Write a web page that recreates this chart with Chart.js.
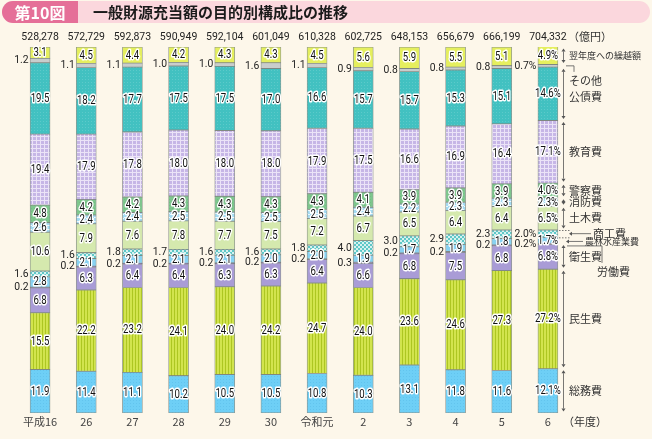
<!DOCTYPE html>
<html><head><meta charset="utf-8">
<script src="https://cdn.jsdelivr.net/npm/chart.js@4"></script>
<style>
html,body{margin:0;padding:0;background:#fdf7ea;}
#wrap{position:relative;width:652px;height:439px;}
canvas{display:block;}
</style></head>
<body><div id="wrap"><canvas id="c" width="652" height="439"></canvas></div>
<script>
const categories = ['平成16','26','27','28','29','30','令和元','2','3','4','5','6'];
const totals = ['528,278','572,729','592,873','590,949','592,104','601,049','610,328','602,725','648,153','656,679','666,199','704,332'];
const soumu     = [11.9,11.4,11.1,10.2,10.5,10.5,10.8,10.3,13.1,11.8,11.6,12.1];
const minsei    = [15.5,22.2,23.2,24.1,24.0,24.2,24.7,24.0,23.6,24.6,27.3,27.2];
const eisei     = [6.8,6.3,6.4,6.4,6.3,6.3,6.4,6.6,6.8,7.5,6.8,6.8];
const roudou    = [0.2,0.2,0.2,0.2,0.2,0.2,0.2,0.3,0.2,0.2,0.2,0.2];
const nourin    = [2.8,2.1,2.1,2.1,2.1,2.0,2.0,1.9,1.7,1.9,1.8,1.7];
const shoukou   = [1.6,1.6,1.8,1.7,1.6,1.6,1.8,4.0,3.0,2.9,2.3,2.0];
const doboku    = [10.6,7.9,7.6,7.8,7.7,7.5,7.2,6.7,6.5,6.4,6.4,6.5];
const shoubou   = [2.6,2.4,2.4,2.5,2.5,2.5,2.5,2.4,2.2,2.3,2.3,2.3];
const keisatsu  = [4.8,4.2,4.2,4.3,4.3,4.3,4.3,4.1,3.9,3.9,3.9,4.0];
const kyouiku   = [19.4,17.9,17.8,18.0,18.0,18.0,17.9,17.5,16.6,16.9,16.4,17.1];
const kousai    = [19.5,18.2,17.7,17.5,17.5,17.0,16.6,15.7,15.7,15.3,15.1,14.6];
const sonota    = [1.2,1.1,1.1,1.0,1.0,1.6,1.1,0.9,0.8,0.8,0.8,0.7];
const yokunendo = [3.1,4.5,4.4,4.2,4.3,4.3,4.5,5.6,5.9,5.5,5.1,4.9];
const seriesNames = ['総務費','民生費','衛生費','労働費','農林水産業費','商工費','土木費','消防費','警察費','教育費','公債費','その他','翌年度への繰越額'];
const seriesData = [soumu,minsei,eisei,roudou,nourin,shoukou,doboku,shoubou,keisatsu,kyouiku,kousai,sonota,yokunendo];
const outsideSeries = ['労働費','商工費','その他'];

const canvas = document.getElementById('c');
const ctx0 = canvas.getContext('2d');
function pat(w,h,draw){const c=document.createElement('canvas');c.width=w;c.height=h;const g=c.getContext('2d');draw(g);return ctx0.createPattern(c,'repeat');}
const fills = [
  pat(3,3,g=>{g.fillStyle='#6ecff6';g.fillRect(0,0,3,3);g.fillStyle='#62c4ee';g.fillRect(1,1,1,1);}),
  pat(3,1,g=>{g.fillStyle='#d2e44e';g.fillRect(0,0,3,1);g.fillStyle='#adc622';g.fillRect(0,0,1,1);}),
  '#a99cd6',
  '#7d6fa0',
  '#88d2f2',
  pat(4,4,g=>{g.fillStyle='#5ec7c7';g.fillRect(0,0,4,4);g.fillStyle='#d6f1ef';g.fillRect(0,0,2,2);g.fillRect(2,2,2,2);}),
  '#d5e9ae',
  pat(6,4,g=>{g.fillStyle='#a3daf2';g.fillRect(0,0,6,4);g.fillStyle='#ecf8fd';g.fillRect(0,1,2,1);g.fillRect(2,2,2,1);g.fillRect(4,1,2,1);}),
  pat(3,3,g=>{g.fillStyle='#7ec68d';g.fillRect(0,0,3,3);g.fillStyle='#72bd82';g.fillRect(1,1,1,1);}),
  pat(4,4,g=>{g.fillStyle='#c6b6e6';g.fillRect(0,0,4,4);g.fillStyle='#ebe3f7';g.fillRect(0,0,4,1);g.fillRect(0,0,1,4);}),
  pat(3,3,g=>{g.fillStyle='#42c1c1';g.fillRect(0,0,3,3);g.fillStyle='#5ccaca';g.fillRect(1,1,1,1);}),
  '#c9cdcc',
  '#e5ef5e'
];

const datasets = seriesNames.map((n,i)=>({label:n,data:seriesData[i],backgroundColor:fills[i],borderColor:'rgba(105,118,112,0.75)',borderWidth:0.8,borderSkipped:false,barThickness:20,stack:'s'}));

function txt(ctx,s,x,y,opt){
  ctx.save();
  ctx.font=opt.font||'11px Roboto';
  ctx.textAlign=opt.align||'center';
  ctx.textBaseline='middle';
  ctx.translate(x,y);
  if(opt.sx) ctx.scale(opt.sx,1);
  if(opt.stroke){ctx.lineJoin='round';ctx.strokeStyle='#fff';ctx.lineWidth=3.2;ctx.strokeText(s,0,0);}
  ctx.fillStyle=opt.color||'#222';
  ctx.fillText(s,0,0);
  ctx.restore();
}

const deco = {
  id:'deco',
  beforeDraw(chart){
    const ctx=chart.ctx;
    ctx.save();
    ctx.fillStyle='#fdf7ea';ctx.fillRect(0,0,652,439);
    ctx.fillStyle='#fbd7dd';
    ctx.beginPath();ctx.roundRect(2,1,648,22,11);ctx.fill();
    ctx.fillStyle='#e56f98';
    ctx.beginPath();ctx.roundRect(2,1,76,22,[11,0,0,11]);ctx.fill();
    ctx.restore();
    txt(ctx,'第10図',40,12.5,{font:'bold 16px "Noto Sans CJK JP"',color:'#fff'});
    txt(ctx,'一般財源充当額の目的別構成比の推移',93,12.5,{font:'bold 15px "Noto Sans CJK JP"',align:'left',color:'#1a1a1a'});
  },
  afterDatasetsDraw(chart){
    const ctx=chart.ctx;
    const xs=chart.scales.x, ys=chart.scales.y;
    const last=categories.length-1;
    chart.data.datasets.forEach((ds,di)=>{
      const meta=chart.getDatasetMeta(di);
      meta.data.forEach((el,j)=>{
        const v=ds.data[j];
        const cy=(el.y+el.base)/2;
        const s=v.toFixed(1)+(j===last?'%':'');
        if(outsideSeries.includes(ds.label)){
          txt(ctx,s,el.x-11.5,cy,{font:'11.5px Roboto',align:'right',color:'#222',sx:0.9});
        } else {
          txt(ctx,s,el.x,cy+0.5,{font:'12px Roboto',stroke:true,color:'#111',sx:0.8});
        }
      });
    });
    categories.forEach((c,j)=>{
      const x=xs.getPixelForValue(j);
      txt(ctx,totals[j],x,37,{font:'10.5px Roboto',color:'#222'});
      txt(ctx,c,x,422,{font:'11px "Noto Sans CJK JP"',color:'#444'});
    });
    txt(ctx,'（億円）',568,37,{font:'11px "Noto Sans CJK JP"',align:'left',color:'#333'});
    txt(ctx,'（年度）',563,422,{font:'11px "Noto Sans CJK JP"',align:'left',color:'#333'});
    let cum=[0];
    seriesData.forEach((d)=>cum.push(cum[cum.length-1]+d[last]));
    const Y=v=>ys.getPixelForValue(Math.min(v,100));
    const bx=563;
    ctx.save();
    ctx.strokeStyle='#555';ctx.fillStyle='#555';ctx.lineWidth=0.8;
    function seg(lo,hi){
      const y1=Y(hi)+1.5,y2=Y(lo)-1.5;
      ctx.beginPath();ctx.moveTo(bx+0.5,y1+3);ctx.lineTo(bx+0.5,y2-3);ctx.stroke();
      ctx.beginPath();ctx.moveTo(bx+0.5,y1);ctx.lineTo(bx-1.5,y1+3);ctx.lineTo(bx+2.5,y1+3);ctx.closePath();ctx.fill();
      ctx.beginPath();ctx.moveTo(bx+0.5,y2);ctx.lineTo(bx-1.5,y2-3);ctx.lineTo(bx+2.5,y2-3);ctx.closePath();ctx.fill();
    }
    const groups=[[0,1],[1,2],[2,4],[6,7],[7,8],[8,9],[9,10],[10,11],[12,13]];
    groups.forEach(g=>seg(cum[g[0]],cum[g[1]]));
    const ySo=Y((cum[11]+cum[12])/2);
    ctx.beginPath();ctx.moveTo(bx+3,ySo);ctx.lineTo(bx+11,ySo);ctx.lineTo(bx+11,ySo+6);ctx.stroke();
    const ySh=Y((cum[5]+cum[6])/2);
    ctx.beginPath();ctx.moveTo(bx+9,ySh);ctx.lineTo(bx+28,ySh);ctx.stroke();
    ctx.beginPath();ctx.moveTo(bx+6,ySh);ctx.lineTo(bx+9,ySh-2);ctx.lineTo(bx+9,ySh+2);ctx.closePath();ctx.fill();
    const yNo=Y((cum[4]+cum[5])/2)+1;
    ctx.beginPath();ctx.moveTo(bx+6,yNo);ctx.lineTo(bx+20,yNo);ctx.stroke();
    ctx.beginPath();ctx.moveTo(bx+3,yNo);ctx.lineTo(bx+6,yNo-2);ctx.lineTo(bx+6,yNo+2);ctx.closePath();ctx.fill();
    const yRo=Y((cum[3]+cum[4])/2)+2;
    ctx.beginPath();ctx.moveTo(bx+4,yRo);ctx.lineTo(bx+39,yRo);ctx.lineTo(bx+39,yRo+17);ctx.stroke();
    ctx.setLineDash([1.5,1.5]);
    ctx.beginPath();ctx.moveTo(bx-4,Y(cum[6])+0.5);ctx.lineTo(bx+8,Y(cum[6])+0.5);ctx.stroke();
    ctx.beginPath();ctx.moveTo(bx-4,Y(cum[5])+0.5);ctx.lineTo(bx+8,Y(cum[5])+0.5);ctx.stroke();
    ctx.restore();
    const lf='11px "Noto Sans CJK JP"', lc='#333';
    const mid=(a,b)=>Y((cum[a]+cum[b])/2);
    txt(ctx,'翌年度への繰越額',569,mid(12,13),{font:'9px "Noto Sans CJK JP"',align:'left',color:lc});
    txt(ctx,'その他',569,81,{font:lf,align:'left',color:lc});
    txt(ctx,'公債費',569,mid(10,11)+3,{font:lf,align:'left',color:lc});
    txt(ctx,'教育費',569,mid(9,10),{font:lf,align:'left',color:lc});
    txt(ctx,'警察費',569,mid(8,9),{font:lf,align:'left',color:lc});
    txt(ctx,'消防費',569,mid(7,8),{font:lf,align:'left',color:lc});
    txt(ctx,'土木費',569,mid(6,7),{font:lf,align:'left',color:lc});
    txt(ctx,'商工費',593,ySh,{font:lf,align:'left',color:lc});
    txt(ctx,'農林水産業費',585,yNo,{font:'9px "Noto Sans CJK JP"',align:'left',color:lc});
    txt(ctx,'衛生費',569,257,{font:lf,align:'left',color:lc});
    txt(ctx,'労働費',597,272,{font:lf,align:'left',color:lc});
    txt(ctx,'民生費',569,mid(1,2),{font:lf,align:'left',color:lc});
    txt(ctx,'総務費',569,mid(0,1),{font:lf,align:'left',color:lc});
  }
};

new Chart(canvas,{
  type:'bar',
  data:{labels:categories,datasets},
  options:{
    responsive:false,animation:false,devicePixelRatio:1,
    layout:{padding:{left:17,right:81,top:47,bottom:26}},
    plugins:{legend:{display:false},tooltip:{enabled:false},title:{display:false}},
    scales:{
      x:{stacked:true,display:false},
      y:{stacked:true,display:false,min:0,max:100}
    }
  },
  plugins:[deco]
});
</script></body></html>
